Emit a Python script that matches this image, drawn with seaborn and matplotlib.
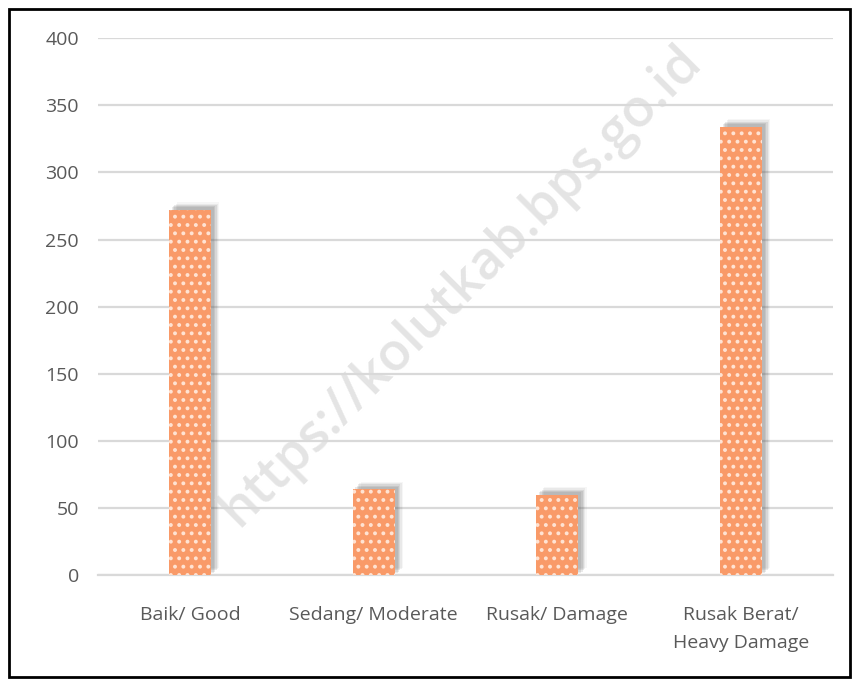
import matplotlib
matplotlib.use("Agg")
import matplotlib.pyplot as plt
import matplotlib.patheffects as pe
from matplotlib.patches import Rectangle
import seaborn as sns
import pandas as pd

categories = ["Baik/ Good", "Sedang/ Moderate", "Rusak/ Damage", "Rusak Berat/\nHeavy Damage"]
values = [272, 64, 60, 334]
y_ticks = [0, 50, 100, 150, 200, 250, 300, 350, 400]

df = pd.DataFrame({"kondisi": categories, "panjang": values})

sns.set_style("white")
plt.rcParams["font.family"] = ["Open Sans", "DejaVu Sans"]
plt.rcParams["hatch.linewidth"] = 1.6

fig = plt.figure(figsize=(8.54, 6.8), dpi=100)
ax = fig.add_axes([0.115, 0.154, 0.86, 0.79])

# solid bars with a soft shadow
sns.barplot(data=df, x="kondisi", y="panjang", color="#F99A68", width=0.23,
            saturation=1, ax=ax, zorder=3)
shadow = []
for off, a in [(2, 0.12), (3, 0.12), (4, 0.12), (5, 0.08), (6, 0.05)]:
    shadow.append(pe.SimplePatchShadow(offset=(off, off * 0.9), shadow_rgbFace="#555555", alpha=a))
for bar in ax.patches:
    bar.set_linewidth(0)
    bar.set_path_effects(shadow + [pe.Normal()])

# dotted pattern on top
sns.barplot(data=df, x="kondisi", y="panjang", width=0.23, fill=False,
            ax=ax, zorder=4, linewidth=0)
for bar in ax.patches[len(values):]:
    bar.set_hatch("..")
    bar.set_edgecolor("#FFE3D3")
    bar.set_linewidth(0)

ax.set_ylim(0, 400)
ax.set_yticks(y_ticks)
ax.set_xlim(-0.5, 3.5)
ax.yaxis.grid(True, color="#D9D9D9", linewidth=1.6, zorder=0)
ax.set_axisbelow(True)
for s in ["top", "right", "left"]:
    ax.spines[s].set_visible(False)
ax.spines["bottom"].set_color("#D9D9D9")
ax.spines["bottom"].set_linewidth(1.6)
ax.tick_params(axis="both", length=0, labelsize=14, labelcolor="#595959")
ax.tick_params(axis="y", pad=14)
ax.tick_params(axis="x", pad=22)
for t in ax.get_xticklabels():
    t.set_linespacing(1.75)
ax.set_xlabel("")
ax.set_ylabel("")

# watermark
fig.text(0.54, 0.58, "https://kolutkab.bps.go.id", rotation=45, fontsize=38,
         fontweight="semibold", color="#D9D9D9", alpha=0.7, ha="center", va="center",
         family=["Open Sans", "DejaVu Sans"], zorder=10)

fig.patches.append(Rectangle((0.01, 0.004), 0.985, 0.983, transform=fig.transFigure,
                             fill=False, edgecolor="black", linewidth=2))

fig.savefig("out.png", dpi=100)
